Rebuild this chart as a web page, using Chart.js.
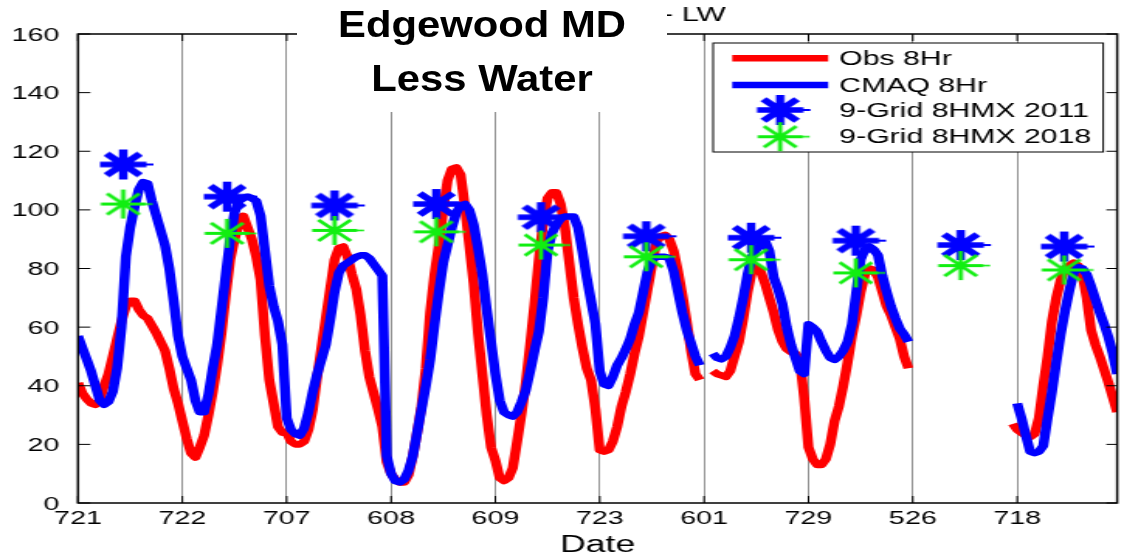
<!DOCTYPE html>
<html><head><meta charset="utf-8">
<script src="https://cdn.jsdelivr.net/npm/chart.js@4.4.1/dist/chart.umd.min.js"></script>
<style>
html,body{margin:0;padding:0;background:#fff;overflow:hidden;width:1141px;height:555px;}
#wrap{position:relative;width:1141px;height:555px;overflow:hidden;}
#c{position:absolute;left:0;top:0;width:736px;height:555px;transform:scaleX(1.5503);transform-origin:0 0;}
#title{position:absolute;left:297px;top:0;width:370px;height:112px;background:#fff;font:bold 37px "Liberation Sans",Arial,Helvetica,sans-serif;color:#000;text-align:center;}
#title div{position:absolute;left:0;width:370px;line-height:37px;white-space:nowrap;transform:scaleX(1.13);transform-origin:50% 50%;}
#t1{top:6px;} #t2{top:60px;}
</style></head>
<body><div id="wrap"><canvas id="c" width="736" height="555"></canvas>
<div id="title"><div id="t1">Edgewood MD</div><div id="t2">Less Water</div></div></div>
<script>
// ---------------- data ----------------
const dayLabels = ['721','722','707','608','609','723','601','729','526','718'];
const hoursPerDay = 24;

// hourly Obs 8Hr (hour 0 .. 239), null = no data
const obs8hr = [
  41,37.5,35.5,34,33.5,35,40,44,50,56,62,67,69,69,66,64,63,60.5,58,55,52,46,39,34,
  28,22,17,15.5,19,23,30,38,47,58,71,83,90,95,98,94,90,84,76,57,42,34,26,24,
  24,21,20,20,21,25,32,43,53,63,73,83,87,87.5,84,78,73,64,52,43,37.5,32,26,14,
  10,8,7,7,9.5,16,24,33,46,65,78,88,100,110,114,114.5,112,101,88,75,58,44,30,19,
  14.5,8.5,7.5,8.5,12,21,30.5,41,54,68,83,96,104,106,106,102,94,82,70,61,53,46,42,32,
  18,17.5,18,21,26,33,38,44,51,57,65,73,81,89,91,91.5,90,86,79,71,62,52,44,42,
  null,null,45,44,43.5,43,45,50,55,63,72,79,80.5,79,75,70,65,59,55,52.5,51.5,51,49,36,
  19,15,13,13,15,20,28,33,40,48,57,64,72,78,80,79.5,77,72,67,64,60,56,50,46,
  null,null,null,null,null,null,null,null,null,null,null,null,null,null,null,null,null,null,null,null,null,null,null,27,
  25,24,23,22.5,23.5,29,40,50,62,70,76,80,81,82,81,78,70,59,54,50,45.5,41,36,31
];

// hourly CMAQ 8Hr (hour 0 .. 239)
const cmaq8hr = [
  57,53,49,45,40,35,33.5,34.5,38,46,60,84,94,101,107,109.5,109,103,98,93,88,80,69,57,
  50,46,42,35,31,31,37,46,54,66,78,90,99,103,104,104.5,104,103,98,86,74,67,62,54,
  29,25,23.5,23,25.5,31,38,44,49,54,62.5,72,78.5,81,82,83,84,84.5,84.5,83.5,81.5,79.5,77.5,16,
  10,7.5,7,8,11,16,24,32,40,49,61,72,82,88,94,99,101.5,102,100,95,87,78,66,55,
  44,35,31,30,29.5,31,34.5,38.5,45,52,58.5,70,86,92,95,97,97.7,97.7,97.7,94,86,77,69,61,
  45,40.5,40,43,47,49.5,52.5,56,61,65,72,79,83,84,84,84,83.5,79,72,65,59,54.5,50,47,
  null,null,51,49.5,49,50,53,57,63,70,78,84,86.5,88,89.5,86,77,73,68,60,54,49.5,45,44,
  61,60,58.5,55,52,49.5,48.8,50,52,55,61,72,83,86.5,87.5,86.5,84.5,77.5,72,67,63,59.5,57.5,55,
  null,null,null,null,null,null,null,null,null,null,null,null,null,null,null,null,null,null,null,null,null,null,null,null,
  34,29,23,17.5,17,17.5,19.5,29,38,48,57.5,65.5,72.5,78.5,80.5,80,78,74,69.5,65,61,56.5,51,44
];

// 9-grid daily 8-hr max markers
const markerHours = [10.4, 34.3, 59, 82.4, 106.5, 130.7, 154.8, 178.9, 203, 226.8];
const hmx2011 = [115.5, 104.5, 101.5, 102, 97.5, 91, 90.5, 89.5, 88, 87.5];
const hmx2018 = [102, 92, 93, 92.5, 88, 84, 83, 78.5, 81, 79.5];

const yMin = 0, yMax = 160, yStep = 20;
const seriesLabels = ['Obs 8Hr', 'CMAQ 8Hr', '9-Grid 8HMX 2011', '9-Grid 8HMX 2018'];

// ---------------- styles ----------------
const FONT = '"Liberation Sans", Arial, Helvetica, sans-serif';
const RED = '#ff0000', BLUE = '#0000ff', GREEN = '#11ee11';

function makeStar(color, r, lw, tail, tailW) {
  const pad = Math.ceil(lw) + 1;
  const half = r + tail + pad;
  const c = document.createElement('canvas');
  c.width = 2 * half; c.height = 2 * (r + pad);
  const g = c.getContext('2d');
  const cx = half, cy = r + pad;
  g.strokeStyle = color; g.lineWidth = lw; g.lineCap = 'butt';
  g.beginPath();
  g.moveTo(cx - r, cy); g.lineTo(cx + r, cy);
  g.moveTo(cx, cy - r); g.lineTo(cx, cy + r);
  const d = r * 0.72;
  g.moveTo(cx - d, cy - d); g.lineTo(cx + d, cy + d);
  g.moveTo(cx - d, cy + d); g.lineTo(cx + d, cy - d);
  g.stroke();
  g.lineWidth = tailW;
  g.beginPath(); g.moveTo(cx + r - 1, cy); g.lineTo(cx + r + tail, cy); g.stroke();
  return c;
}
const blueStar = makeStar(BLUE, 15, 5.5, 4.5, 2);
const greenStar = makeStar(GREEN, 14.5, 2.8, 4.5, 1.6);

const lineW = 6.5;

const framePlugin = {
  id: 'matlabFrame',
  afterDatasetsDraw(chart) {
    const {ctx, chartArea: a, scales} = chart;
    ctx.save();
    ctx.strokeStyle = '#000';
    ctx.lineWidth = 1.5;
    ctx.strokeRect(a.left, a.top, a.right - a.left, a.bottom - a.top);
    ctx.lineWidth = 1;
    ctx.beginPath();
    scales.y.ticks.forEach(t => {
      const y = scales.y.getPixelForValue(t.value);
      ctx.moveTo(a.left, y); ctx.lineTo(a.left + 8, y);
      ctx.moveTo(a.right, y); ctx.lineTo(a.right - 7, y);
    });
    scales.x.ticks.forEach(t => {
      const x = scales.x.getPixelForValue(t.value);
      ctx.moveTo(x, a.bottom); ctx.lineTo(x, a.bottom - 7);
      ctx.moveTo(x, a.top); ctx.lineTo(x, a.top + 7);
    });
    ctx.stroke();
    ctx.restore();
  },
  afterDraw(chart) {
    const {ctx} = chart;
    ctx.save();
    // original figure title fragment
    ctx.fillStyle = '#000';
    ctx.font = '20px ' + FONT;
    ctx.textBaseline = 'alphabetic';
    ctx.textAlign = 'left';
    ctx.fillText('- LW', 427.5, 20.7);
    // legend box
    const bx = 460, by = 43, bw = 251.6, bh = 109;
    ctx.fillStyle = '#fff';
    ctx.fillRect(bx, by, bw, bh);
    ctx.strokeStyle = '#000'; ctx.lineWidth = 1;
    ctx.strokeRect(bx, by, bw, bh);
    const sampleY = [58.3, 85, 110, 136.7];
    const textY = [60, 86.7, 111.7, 137.8];
    const ds = chart.data.datasets;
    ctx.lineCap = 'butt';
    [0, 1].forEach(i => {
      ctx.strokeStyle = ds[i].borderColor; ctx.lineWidth = lineW;
      ctx.beginPath(); ctx.moveTo(472.3, sampleY[i]); ctx.lineTo(534.2, sampleY[i]); ctx.stroke();
    });
    [2, 3].forEach(i => {
      const img = ds[i].pointStyle;
      ctx.drawImage(img, 503.2 - img.width / 2, sampleY[i] - img.height / 2);
    });
    ctx.fillStyle = '#000';
    ctx.font = '19.5px ' + FONT;
    ctx.textBaseline = 'middle';
    ds.forEach((d, i) => ctx.fillText(d.label, 541.3, textY[i]));
    ctx.restore();
  }
};

new Chart(document.getElementById('c'), {
  type: 'line',
  data: {
    datasets: [
      { label: seriesLabels[0], data: obs8hr.map((v, i) => ({x: i, y: v})),
        borderColor: RED, backgroundColor: RED, borderWidth: lineW, pointRadius: 0,
        borderJoinStyle: 'round', spanGaps: false, tension: 0, order: 3 },
      { label: seriesLabels[1], data: cmaq8hr.map((v, i) => ({x: i, y: v})),
        borderColor: BLUE, backgroundColor: BLUE, borderWidth: lineW, pointRadius: 0,
        borderJoinStyle: 'round', spanGaps: false, tension: 0, order: 2 },
      { label: seriesLabels[2], data: markerHours.map((h, i) => ({x: h, y: hmx2011[i]})),
        showLine: false, pointStyle: blueStar, pointRadius: 14, borderColor: BLUE, backgroundColor: BLUE, order: 1 },
      { label: seriesLabels[3], data: markerHours.map((h, i) => ({x: h, y: hmx2018[i]})),
        showLine: false, pointStyle: greenStar, pointRadius: 14, borderColor: GREEN, backgroundColor: GREEN, order: 0 }
    ]
  },
  options: {
    responsive: false,
    devicePixelRatio: 1,
    animation: false,
    events: [],
    layout: { padding: { left: 0, right: 15.4, top: 34, bottom: 0 } },
    plugins: { legend: { display: false }, tooltip: { enabled: false }, title: { display: false } },
    scales: {
      x: {
        type: 'linear', min: 0, max: 239,
        afterBuildTicks: s => { s.ticks = dayLabels.map((_, i) => ({ value: i * hoursPerDay })); },
        afterFit: s => { s.height = 52; },
        ticks: { callback: (v, i) => dayLabels[i], font: { family: FONT, size: 18.5 }, color: '#000',
                 padding: 5, maxRotation: 0, autoSkip: false },
        grid: { display: true, drawOnChartArea: true, drawTicks: false, color: '#6e6e6e', lineWidth: 0.75 },
        border: { display: false },
        title: { display: true, text: 'Date', font: { family: FONT, size: 23 }, color: '#000',
                 padding: { top: 0, bottom: -4 } }
      },
      y: {
        min: yMin, max: yMax,
        afterFit: s => { s.width = 50.3; },
        ticks: { stepSize: yStep, font: { family: FONT, size: 18.5 }, color: '#000', padding: 4, labelOffset: 1.5 },
        grid: { display: false },
        border: { display: false }
      }
    }
  },
  plugins: [framePlugin]
});
</script>
</body></html>
